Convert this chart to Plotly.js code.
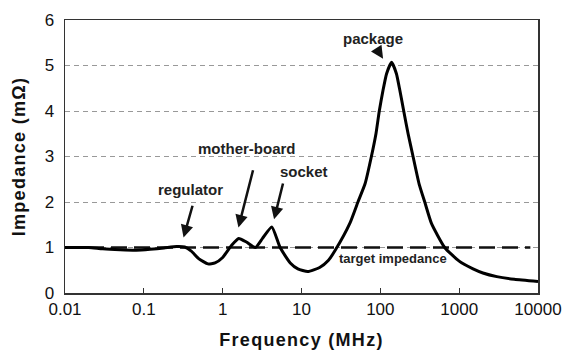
<!DOCTYPE html>
<html>
<head>
<meta charset="utf-8">
<script src="https://cdn.plot.ly/plotly-3.0.1.min.js"></script>
<style>
html,body{margin:0;padding:0;background:#fff;}
#chart{width:567px;height:352px;}
#chart .xtitle, #chart .ytitle{letter-spacing:1.3px;}
</style>
</head>
<body>
<div id="chart"></div>
<script>
// Impedance curve (frequency in MHz, impedance in mΩ)
const freqMHz = [0.01, 0.02, 0.03, 0.05, 0.08, 0.12, 0.18, 0.26, 0.33, 0.4, 0.5, 0.65, 0.8, 1.0, 1.3, 1.6, 2.0, 2.6, 3.2, 4.2, 5.35, 7.2, 9.0, 12, 17, 22, 27, 41, 52, 64, 77, 88, 97, 108, 120, 139, 160, 177, 198, 225, 260, 310, 366, 445, 655, 1000, 1500, 2000, 3000, 5000, 10000];
const impedance = [1.0, 1.0, 0.97, 0.95, 0.94, 0.96, 0.99, 1.02, 1.01, 0.92, 0.75, 0.64, 0.66, 0.78, 1.05, 1.2, 1.12, 1.0, 1.2, 1.45, 1.0, 0.66, 0.53, 0.47, 0.56, 0.72, 0.95, 1.53, 2.0, 2.4, 3.0, 3.5, 4.0, 4.45, 4.82, 5.07, 4.82, 4.45, 4.0, 3.5, 3.0, 2.4, 2.0, 1.53, 1.0, 0.70, 0.53, 0.44, 0.36, 0.30, 0.25];
// Target impedance line
const targetX = [0.01, 8000];
const targetY = [1, 1];
// Axis ticks
const xTickVals = [0.01, 0.1, 1, 10, 100, 1000, 10000];
const xTickText = ["0.01", "0.1", "1", "10", "100", "1000", "10000"];
const yTickVals = [0, 1, 2, 3, 4, 5, 6];
// Labels: [text, log10(freq), impedance]
const labelText = ["regulator", "mother-board", "socket", "package", "target impedance"];
const labelX = [-0.411, 0.306, 1.032, 1.909, 2.162];
const labelY = [2.28, 3.17, 2.66, 5.585, 0.76];
// Arrows: head (x,y) and tail (ax,ay), x in log10(freq)
const arrowHeadX = [-0.496, 0.2, 0.652, 2.035];
const arrowHeadY = [1.22, 1.44, 1.62, 5.15];
const arrowTailX = [-0.377, 0.39, 0.77, 1.952];
const arrowTailY = [1.95, 2.73, 2.44, 5.37];

const FONT = "Liberation Sans, Arial, sans-serif";

const traces = [
  {x: targetX, y: targetY, mode: "lines", line: {color: "#111", width: 2.7, dash: "16px,7px"}, hoverinfo: "skip"},
  {x: freqMHz, y: impedance, mode: "lines", line: {color: "#000", width: 3, shape: "spline", smoothing: 0.5}, hoverinfo: "skip"}
];

const annotations = [];
labelText.forEach((t, i) => {
  annotations.push({
    x: labelX[i], y: labelY[i], xref: "x", yref: "y", text: "<b>" + t + "</b>",
    showarrow: false, font: {family: FONT, size: i === 4 ? 13 : 15, color: "#222"},
    xanchor: "center", yanchor: "middle"
  });
});
arrowHeadX.forEach((x, i) => {
  annotations.push({
    x: x, y: arrowHeadY[i], ax: arrowTailX[i], ay: arrowTailY[i],
    xref: "x", yref: "y", axref: "x", ayref: "y", text: "",
    showarrow: true, arrowhead: 2, arrowsize: 1, arrowwidth: 2.5, arrowcolor: "#111", standoff: 0, startstandoff: 0
  });
});

const layout = {
  width: 567, height: 352,
  margin: {l: 65, r: 29, t: 20, b: 59},
  paper_bgcolor: "#fff", plot_bgcolor: "#fff",
  showlegend: false,
  font: {family: FONT, color: "#111"},
  xaxis: {
    type: "log", range: [-2, 4],
    tickvals: xTickVals, ticktext: xTickText,
    ticks: "inside", ticklen: 5, tickwidth: 1.2, tickcolor: "#333",
    tickfont: {family: FONT, size: 17, color: "#111"},
    showgrid: false, zeroline: false,
    showline: true, linecolor: "#333", linewidth: 1.5, mirror: true,
    title: {text: "<b>Frequency (MHz)</b>", font: {family: FONT, size: 18, color: "#111"}, standoff: 15}
  },
  yaxis: {
    range: [0, 6], tickvals: yTickVals,
    ticks: "", ticklabelstandoff: 6,
    tickfont: {family: FONT, size: 17, color: "#111"},
    showgrid: true, gridcolor: "#999", gridwidth: 1, griddash: "5px,4px",
    zeroline: false,
    showline: true, linecolor: "#333", linewidth: 1.5, mirror: true,
    title: {text: "<b>Impedance (mΩ)</b>", font: {family: FONT, size: 18, color: "#111"}, standoff: 14}
  },
  annotations: annotations
};

Plotly.newPlot("chart", traces, layout, {staticPlot: true, displayModeBar: false});
</script>
</body>
</html>
